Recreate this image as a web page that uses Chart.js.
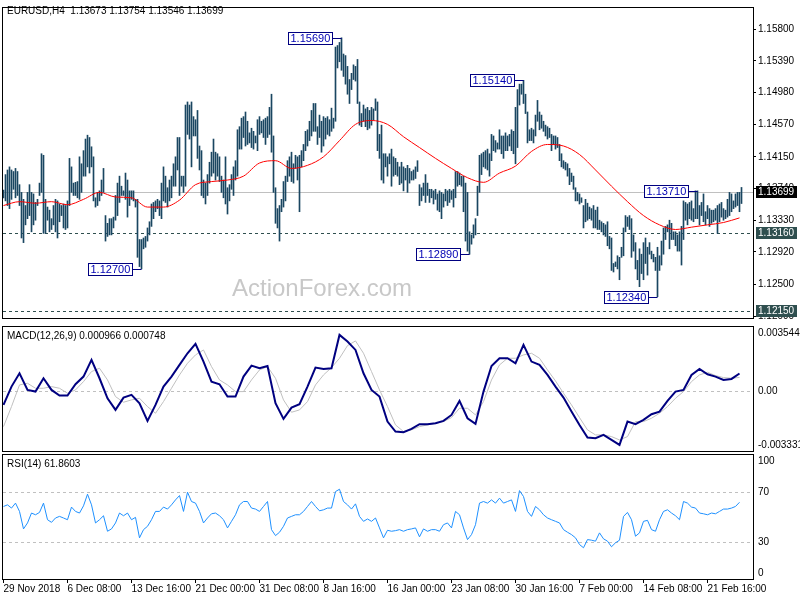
<!DOCTYPE html>
<html>
<head>
<meta charset="utf-8">
<script src="https://cdn.jsdelivr.net/npm/chart.js@4.4.1/dist/chart.umd.min.js"></script>
<style>
  body { margin: 0; background: #fff; width: 800px; height: 600px; position: relative; overflow: hidden; }
  canvas { position: absolute; left: 0; }
  #main { top: 0; }
  #macd { top: 326px; }
  #rsi { top: 453px; }
</style>
</head>
<body>
<canvas id="main" width="800" height="326"></canvas>
<canvas id="macd" width="800" height="127"></canvas>
<canvas id="rsi" width="800" height="147"></canvas>
<script>
const symbolName = 'EURUSD,H4';
const lastOHLC = [1.13673, 1.13754, 1.13546, 1.13699];

// H4 bars, one per index
const highs = [
  1.1372,1.1392,1.1398,1.1402,1.1398,1.1396,1.1400,1.1396,1.1379,1.1369,
  1.1360,1.1352,1.1369,1.1379,1.1369,1.1367,1.1356,1.1360,1.1381,1.1419,
  1.1417,1.1360,1.1350,1.1346,1.1335,1.1352,1.1360,1.1358,1.1354,1.1352,
  1.1354,1.1352,1.1358,1.1413,1.1402,1.1381,1.1382,1.1383,1.1415,1.1406,
  1.1423,1.1438,1.1443,1.1440,1.1428,1.1415,1.1362,1.1369,1.1371,1.1385,
  1.1400,1.1339,1.1329,1.1335,1.1335,1.1337,1.1365,1.1381,1.1390,1.1377,
  1.1371,1.1394,1.1385,1.1371,1.1371,1.1371,1.1360,1.1360,1.1308,1.1308,
  1.1310,1.1312,1.1323,1.1331,1.1354,1.1356,1.1358,1.1360,1.1358,1.1381,
  1.1402,1.1390,1.1375,1.1385,1.1390,1.1406,1.1415,1.1440,1.1440,1.1390,
  1.1390,1.1482,1.1486,
  1.1482,1.1486,1.1467,1.1463,1.1475,1.1429,1.1423,1.1385,1.1381,1.1392,
  1.1408,1.1421,1.1438,1.1421,1.1419,1.1415,1.1390,1.1385,1.1415,1.1375,
  1.1379,1.1392,1.1402,1.1410,1.1450,1.1454,1.1465,1.1467,1.1473,1.1461,
  1.1446,1.1452,1.1448,1.1442,1.1463,1.1467,1.1461,1.1463,
  1.1465,1.1467,1.1479,1.1496,1.1442,1.1375,1.1348,1.1352,1.1360,1.1383,
  1.1390,1.1410,1.1415,1.1421,1.1406,1.1417,1.1415,1.1417,1.1423,1.1431,
  1.1448,1.1450,1.1461,1.1475,1.1484,1.1484,1.1454,1.1469,1.1461,1.1467,
  1.1465,1.1467,1.1463,1.1478,1.1465,1.1557,1.1559,1.1563,1.1569,1.1548,
  1.1546,1.1532,1.1515,1.1523,1.1534,1.1532,1.1541,1.1486,1.1471,1.1482,
  1.1477,1.1479,1.1475,1.1479,1.1477,
  1.1490,1.1486,1.1444,1.1456,1.1419,1.1419,1.1415,1.1419,1.1425,1.1415,
  1.1413,1.1408,1.1402,1.1408,1.1402,1.1400,1.1404,1.1400,1.1396,1.1398,
  1.1402,1.1410,1.1379,1.1375,1.1381,1.1392,1.1381,1.1373,1.1373,1.1371,
  1.1373,1.1367,1.1371,1.1369,1.1367,1.1373,1.1371,1.1373,1.1371,1.1373,
  1.1396,1.1396,1.1394,1.1390,1.1390,1.1381,1.1369,1.1318,1.1314,1.1327,
  1.1335,1.1377,1.1417,1.1419,1.1421,1.1423,
  1.1425,1.1419,1.1444,1.1442,1.1436,1.1433,1.1450,1.1442,1.1442,1.1446,
  1.1442,1.1444,1.1450,1.1448,1.1479,1.1502,1.1509,1.1509,1.1514,1.1496,
  1.1473,1.1450,1.1452,1.1450,1.1469,1.1488,1.1473,1.1469,1.1461,1.1456,
  1.1454,1.1452,1.1444,1.1442,1.1442,1.1440,1.1431,
  1.1419,1.1410,1.1408,1.1406,1.1400,1.1394,1.1390,1.1375,1.1369,1.1367,
  1.1362,1.1352,1.1360,1.1355,
  1.1350,1.1348,1.1352,1.1346,1.1350,1.1333,1.1331,1.1329,1.1327,1.1331,
  1.1312,1.1310,1.1277,1.1279,1.1287,1.1285,1.1298,1.1323,1.1339,1.1337,
  1.1339,1.1335,1.1314,1.1304,1.1281,1.1296,1.1289,1.1304,1.1310,1.1298,
  1.1304,1.1293,1.1289,1.1285,1.1298,1.1287,1.1306,1.1323,1.1325,1.1327,
  1.1333,1.1329,1.1318,1.1318,1.1314,1.1318,1.1325,1.1358,1.1356,1.1354,
  1.1356,1.1358,1.1348,1.1371,1.1371,1.1352,1.1356,1.1367,1.1344,1.1352,
  1.1348,1.1346,1.1346,1.1348,1.1352,1.1354,1.1356,1.1348,1.1346,1.1360,
  1.1369,1.1367,1.1358,1.1367,1.1369,1.1369,1.13754
];
const lows = [
  1.1362,1.1358,1.1352,1.1348,1.1360,1.1373,1.1362,1.1365,1.1352,1.1310,
  1.1304,1.1327,1.1335,1.1339,1.1318,1.1327,1.1333,1.1352,1.1365,1.1369,
  1.1316,1.1316,1.1333,1.1318,1.1321,1.1327,1.1318,1.1310,1.1331,1.1339,
  1.1323,1.1321,1.1323,1.1352,1.1369,1.1365,1.1365,1.1362,1.1360,1.1369,
  1.1390,1.1390,1.1402,1.1394,1.1402,1.1358,1.1350,1.1352,1.1358,1.1365,
  1.1369,1.1306,1.1312,1.1314,1.1314,1.1323,1.1333,1.1339,1.1356,1.1365,
  1.1365,1.1360,1.1337,1.1352,1.1360,1.1358,1.1350,1.1285,1.1273,1.1270,
  1.1296,1.1298,1.1306,1.1314,1.1325,1.1335,1.1344,1.1348,1.1339,1.1335,
  1.1358,1.1356,1.1350,1.1358,1.1362,1.1377,1.1377,1.1398,1.1365,1.1377,
  1.1369,1.1377,1.1444,
  1.1438,1.1402,1.1442,1.1442,1.1413,1.1398,1.1365,1.1362,1.1354,1.1365,
  1.1381,1.1390,1.1394,1.1385,1.1390,1.1383,1.1369,1.1362,1.1354,1.1341,
  1.1358,1.1373,1.1365,1.1385,1.1390,1.1425,1.1425,1.1440,1.1429,1.1431,
  1.1433,1.1427,1.1425,1.1433,1.1423,1.1444,1.1446,1.1440,
  1.1431,1.1440,1.1444,1.1421,1.1369,1.1329,1.1323,1.1306,1.1344,1.1350,
  1.1358,1.1383,1.1390,1.1383,1.1381,1.1400,1.1385,1.1344,1.1402,1.1410,
  1.1423,1.1429,1.1436,1.1442,1.1448,1.1448,1.1431,1.1440,1.1421,1.1429,
  1.1438,1.1444,1.1442,1.1448,1.1452,1.1461,1.1530,1.1538,1.1527,1.1519,
  1.1509,1.1496,1.1484,1.1502,1.1515,1.1513,1.1484,1.1456,1.1454,1.1461,
  1.1454,1.1450,1.1452,1.1456,1.1463,
  1.1475,1.1423,1.1413,1.1385,1.1381,1.1402,1.1390,1.1406,1.1377,1.1390,
  1.1392,1.1390,1.1379,1.1381,1.1371,1.1385,1.1369,1.1381,1.1385,1.1385,
  1.1387,1.1396,1.1352,1.1358,1.1365,1.1356,1.1365,1.1356,1.1362,1.1354,
  1.1360,1.1346,1.1344,1.1335,1.1350,1.1358,1.1352,1.1356,1.1360,1.1350,
  1.1362,1.1377,1.1379,1.1377,1.1344,1.1306,1.1293,1.1289,1.1302,1.1310,
  1.1314,1.1339,1.1369,1.1392,1.1402,1.1400,
  1.1398,1.1390,1.1410,1.1423,1.1421,1.1425,1.1425,1.1419,1.1413,1.1423,
  1.1423,1.1429,1.1423,1.1419,1.1406,1.1427,1.1482,1.1496,1.1484,1.1471,
  1.1433,1.1436,1.1436,1.1433,1.1442,1.1461,1.1450,1.1452,1.1448,1.1442,
  1.1438,1.1440,1.1423,1.1431,1.1425,1.1427,1.1410,
  1.1402,1.1400,1.1398,1.1390,1.1379,1.1383,1.1373,1.1358,1.1358,1.1354,
  1.1356,1.1323,1.1331,1.1333,
  1.1335,1.1333,1.1323,1.1323,1.1321,1.1321,1.1318,1.1314,1.1312,1.1300,
  1.1296,1.1268,1.1266,1.1273,1.1270,1.1256,1.1285,1.1287,1.1318,1.1325,
  1.1321,1.1285,1.1293,1.1270,1.1256,1.1247,1.1264,1.1256,1.1277,1.1262,
  1.1289,1.1283,1.1279,1.1268,1.1234,1.1268,1.1275,1.1289,1.1308,1.1318,
  1.1296,1.1308,1.1308,1.1300,1.1293,1.1293,1.1275,1.1308,1.1333,1.1327,
  1.1335,1.1333,1.1331,1.1335,1.1335,1.1327,1.1339,1.1331,1.1327,1.1335,
  1.1325,1.1329,1.1331,1.1333,1.1316,1.1331,1.1337,1.1333,1.1335,1.1337,
  1.1339,1.1344,1.1348,1.1350,1.1352,1.1344,1.13546
];

// moving average, one value every MA_STEP bars
const MA_STEP = 8;
const maValues = [
  1.1352,1.1357,1.1355,1.1357,1.1353,1.1360,1.1369,1.1363,1.1362,1.1350,
  1.1350,1.1359,1.1379,1.1383,1.1385,1.1390,1.1407,1.1410,1.1400,1.1404,
  1.1415,1.1436,1.1457,1.1462,1.1457,1.1441,1.1427,1.1413,1.1400,1.1388,
  1.1382,1.1394,1.1403,1.1422,1.1431,1.1429,1.1418,1.1398,1.1377,1.1357,
  1.1339,1.1327,1.1321,1.1324,1.1327,1.1330,1.1336
];

// MACD main and signal, one value every MACD_STEP bars
const MACD_STEP = 4;
const macdMain = [
  -0.000776,0.000240,0.000979,0.000055,-0.000037,0.000702,0.000055,-0.000259,-0.000259,0.000370,
  0.000795,0.001719,0.000702,-0.000407,-0.001053,-0.000370,-0.000222,-0.000684,-0.001663,-0.000776,
  0.000240,0.000795,0.001441,0.002088,0.002606,0.001626,0.000517,0.000370,-0.000314,-0.000314,
  0.000795,0.001404,0.001257,0.001386,-0.000684,-0.001552,-0.000924,-0.000739,0.000240,0.001294,
  0.001220,0.001257,0.003105,0.002735,0.002273,0.000979,0.000055,-0.000314,-0.001700,-0.002255,
  -0.002292,-0.002107,-0.001848,-0.001848,-0.001793,-0.001663,-0.001331,-0.000554,-0.001515,-0.001830,
  -0.000037,0.001386,0.001811,0.001811,0.001534,0.002550,0.001626,0.001441,0.000887,0.000240,
  -0.000370,-0.001146,-0.001885,-0.002587,-0.002624,-0.002439,-0.002717,-0.002994,-0.001700,-0.001848,
  -0.001608,-0.001294,-0.001146,-0.000554,-0.000037,0.000055,0.000887,0.001220,0.000924,0.000795,
  0.000610,0.000665,0.000966
];
const macdSignal = [
  -0.001977,-0.000869,0.000333,0.000425,0.000148,0.000148,0.000240,0.000148,-0.000129,0.000055,
  0.000517,0.001072,0.001257,0.000610,-0.000314,-0.000628,-0.000499,-0.000407,-0.000869,-0.001238,
  -0.000591,0.000148,0.000887,0.001534,0.001996,0.002273,0.001349,0.000610,0.000333,-0.000037,
  -0.000037,0.000610,0.001164,0.001349,0.000702,-0.000499,-0.001183,-0.001053,-0.000591,0.000333,
  0.000887,0.001294,0.001811,0.002513,0.002772,0.002088,0.001072,0.000055,-0.000869,-0.001885,
  -0.002255,-0.002162,-0.001977,-0.001885,-0.001793,-0.001700,-0.001478,-0.000961,-0.000961,-0.001331,
  -0.000591,0.000610,0.001441,0.001811,0.001811,0.001996,0.002088,0.001811,0.001164,0.000554,
  -0.000129,-0.000776,-0.001478,-0.002162,-0.002439,-0.002439,-0.002532,-0.002717,-0.002532,-0.001700,
  -0.001700,-0.001515,-0.001238,-0.000869,-0.000407,-0.000037,0.000517,0.000887,0.001035,0.000850,
  0.000739,0.000702,0.000748
];

// RSI(14), one value every RSI_STEP bars
const RSI_STEP = 2;
const rsiValues = [
  58.5,59.8,57.2,61.2,54.5,40.4,45.2,53.2,51.8,53.7,
  61.2,47.8,45.7,49.2,50.5,49.2,47.8,58.0,54.5,53.2,
  59.0,68.4,59.8,45.2,47.8,51.0,38.5,40.4,45.2,53.2,
  51.0,53.2,47.8,49.7,33.2,39.8,42.5,47.8,54.5,54.5,
  58.0,56.4,59.8,63.8,67.3,54.5,70.0,62.5,61.2,54.5,
  45.2,49.2,52.6,53.2,51.0,47.8,41.2,46.5,51.8,59.8,
  62.5,62.5,57.2,56.4,54.5,58.5,62.5,39.8,35.0,37.7,
  42.5,49.2,50.5,51.8,51.8,54.5,58.5,62.5,58.5,55.0,
  55.8,57.2,57.2,70.5,72.4,62.5,59.8,56.4,60.6,50.5,
  46.5,48.4,46.5,49.2,41.2,33.2,39.3,38.5,39.0,39.8,
  38.5,39.8,40.4,41.2,34.0,40.4,38.5,39.8,39.8,38.5,
  43.8,45.2,41.2,54.5,51.8,41.2,31.8,35.8,43.8,61.2,
  62.5,61.2,63.8,61.2,65.2,61.2,62.5,63.8,54.5,71.3,
  66.5,54.5,50.5,58.5,55.8,51.8,49.2,47.8,46.5,45.2,
  39.8,37.7,35.8,33.2,27.8,25.2,31.8,31.3,30.5,37.2,
  32.4,30.5,26.0,29.2,31.3,50.5,53.7,47.8,34.5,37.2,
  46.5,47.3,39.8,38.5,47.8,54.5,55.8,53.2,51.0,47.8,
  62.5,61.2,58.0,57.2,53.2,52.6,51.8,53.2,52.6,54.5,
  56.4,56.4,57.2,58.5,61.8603
];

// time axis: one label every TIME_STEP bars
const TIME_STEP = 32;
const timeLabels = ['29 Nov 2018', '6 Dec 08:00', '13 Dec 16:00', '21 Dec 00:00', '31 Dec 08:00', '8 Jan 16:00',
  '16 Jan 00:00', '23 Jan 08:00', '30 Jan 16:00', '7 Feb 00:00', '14 Feb 08:00', '21 Feb 16:00'];

const priceTicks = [1.1209, 1.1250, 1.1292, 1.1333, 1.1374, 1.1415, 1.1457, 1.1498, 1.1539, 1.1580];
const priceRange = [1.120649, 1.160754];
const markIndex = [69, 169, 233, 260, 327, 347];
const markPrice = [1.1270, 1.1569, 1.1289, 1.1514, 1.1234, 1.1371];
const levelPrices = [1.1316, 1.1215];
const macdRange = [-0.003331, 0.003544];
const rsiLevels = [70, 30];
const rsiTicks = [100, 70, 30, 0];

const FONT = "'Liberation Sans', Arial, sans-serif";
const BAR_COLOR = '#1a4661';
const X_MIN = -0.25, X_MAX = 374.75;

Chart.defaults.font.family = FONT;
Chart.defaults.font.size = 10;
Chart.defaults.color = '#000';

function xAxis(showLabels) {
  return {
    type: 'linear', min: X_MIN, max: X_MAX, offset: false, bounds: 'data',
    display: showLabels,
    afterBuildTicks: s => { s.ticks = timeLabels.map((t, i) => ({ value: i * TIME_STEP })); },
    afterFit: s => { if (showLabels) s.height = 21; },
    grid: { drawOnChartArea: false, drawTicks: true, tickLength: 4, color: '#000' },
    border: { display: false },
    ticks: { autoSkip: false, maxRotation: 0, minRotation: 0, align: 'start', padding: 0,
      callback: (v, i) => timeLabels[i] }
  };
}

function panelY(min, max) {
  return {
    position: 'right', min: min, max: max, bounds: 'data',
    afterFit: s => { s.width = 47; },
    grid: { display: false }, border: { display: false }, ticks: { display: false }
  };
}

function hLine(ctx, area, py, color, dash) {
  const yy = Math.round(py) + 0.5;
  ctx.save();
  ctx.strokeStyle = color;
  ctx.lineWidth = 1;
  ctx.setLineDash(dash);
  ctx.beginPath();
  ctx.moveTo(area.left, yy);
  ctx.lineTo(area.right, yy);
  ctx.stroke();
  ctx.restore();
}

const framePlugin = {
  id: 'frame',
  afterDraw(chart) {
    const { ctx, chartArea: a } = chart;
    ctx.save();
    ctx.strokeStyle = '#000';
    ctx.lineWidth = 1;
    ctx.strokeRect(a.left - 0.5, a.top - 0.5, a.right - a.left + 1, a.bottom - a.top + 1);
    ctx.restore();
  }
};

function panelDecor(id, title, titleY, levels, labels, fmt) {
  return {
    id: id,
    beforeDatasetsDraw(chart) {
      const { ctx, chartArea: a, scales: { y } } = chart;
      levels.forEach(v => hLine(ctx, a, y.getPixelForValue(v), '#c0c0c0', [3, 3]));
    },
    afterDraw(chart) {
      const { ctx, chartArea: a, scales: { y } } = chart;
      ctx.save();
      ctx.font = '10px ' + FONT;
      ctx.fillStyle = '#000';
      ctx.textAlign = 'left';
      ctx.textBaseline = 'middle';
      ctx.fillText(title, 7, titleY);
      labels.forEach(v => {
        let py = y.getPixelForValue(v);
        py = Math.min(Math.max(py, a.top + 6), a.bottom - 6);
        ctx.fillText(fmt(v), a.right + 5, py);
      });
      ctx.restore();
    }
  };
}

const mainDecor = {
  id: 'mainDecor',
  beforeDatasetsDraw(chart) {
    const { ctx, chartArea: a, scales: { y } } = chart;
    ctx.save();
    ctx.font = '24px ' + FONT;
    ctx.fillStyle = '#c8c8c8';
    ctx.textBaseline = 'alphabetic';
    ctx.fillText('ActionForex.com', 232, 296);
    ctx.restore();
    hLine(ctx, a, y.getPixelForValue(lastOHLC[3]), '#c0c0c0', []);
    levelPrices.forEach(p => hLine(ctx, a, y.getPixelForValue(p), '#2f4f4f', [3, 3]));
  },
  afterDatasetsDraw(chart) {
    const { ctx, scales: { x, y } } = chart;
    ctx.save();
    ctx.font = '11px ' + FONT;
    ctx.lineWidth = 1;
    markIndex.forEach((idx, k) => {
      const px = x.getPixelForValue(idx);
      const py = Math.round(y.getPixelForValue(markPrice[k])) + 0.5;
      const text = markPrice[k].toFixed(5);
      const w = Math.ceil(ctx.measureText(text).width) + 4;
      const right = Math.round(px - 10) + 0.5;
      const left = right - w;
      ctx.fillStyle = '#fff';
      ctx.fillRect(left, py - 6, w, 12);
      ctx.strokeStyle = '#000080';
      ctx.strokeRect(left, py - 6, w, 12);
      ctx.beginPath();
      ctx.moveTo(right, py);
      ctx.lineTo(px, py);
      ctx.stroke();
      ctx.fillStyle = '#0000b4';
      ctx.textAlign = 'left';
      ctx.textBaseline = 'middle';
      ctx.fillText(text, left + 2, py + 0.5);
    });
    ctx.restore();
  },
  afterDraw(chart) {
    const { ctx, chartArea: a, scales: { y } } = chart;
    ctx.save();
    ctx.font = '10px ' + FONT;
    ctx.textAlign = 'left';
    ctx.textBaseline = 'middle';
    const boxes = [[lastOHLC[3], '#000'], [levelPrices[0], '#2f4f4f'], [levelPrices[1], '#2f4f4f']];
    boxes.forEach(([p, col]) => {
      const py = Math.round(y.getPixelForValue(p));
      ctx.fillStyle = col;
      ctx.fillRect(a.right + 3, py - 6, 41, 12);
      ctx.fillStyle = '#fff';
      ctx.fillText(p.toFixed(5), a.right + 5, py);
    });
    ctx.fillStyle = '#000';
    ctx.fillText(symbolName + '  ' + lastOHLC.map(v => v.toFixed(5)).join(' '), 7, 11);
    ctx.restore();
  }
};

const baseOptions = {
  responsive: false,
  animation: false,
  events: [],
  plugins: { legend: { display: false }, tooltip: { enabled: false } }
};

new Chart(document.getElementById('main'), {
  type: 'bar',
  data: {
    datasets: [
      {
        type: 'bar',
        data: highs.map((h, i) => ({ x: i, y: [lows[i], h] })),
        backgroundColor: BAR_COLOR,
        barThickness: 1,
        borderWidth: 0,
        grouped: false,
        order: 2
      },
      {
        type: 'line',
        data: maValues.map((v, i) => ({ x: i * MA_STEP, y: v })),
        borderColor: '#ff0000',
        borderWidth: 1,
        pointRadius: 0,
        cubicInterpolationMode: 'monotone',
        order: 1
      }
    ]
  },
  options: {
    ...baseOptions,
    layout: { padding: { left: 3, top: 3, right: 0, bottom: 3 } },
    scales: {
      x: xAxis(false),
      y: {
        position: 'right', min: priceRange[0], max: priceRange[1], bounds: 'data',
        afterBuildTicks: s => { s.ticks = priceTicks.map(v => ({ value: v })); },
        afterFit: s => { s.width = 47; },
        grid: { drawOnChartArea: false, tickLength: 3, color: '#000' },
        border: { display: false },
        ticks: { padding: 2, autoSkip: false, callback: v => v.toFixed(5) }
      }
    }
  },
  plugins: [mainDecor, framePlugin]
});

new Chart(document.getElementById('macd'), {
  type: 'line',
  data: {
    datasets: [
      {
        data: macdMain.map((v, i) => ({ x: i * MACD_STEP, y: v })),
        borderColor: '#000080', borderWidth: 2, pointRadius: 0, order: 1
      },
      {
        data: macdSignal.map((v, i) => ({ x: i * MACD_STEP, y: v })),
        borderColor: '#c0c0c0', borderWidth: 1, pointRadius: 0, order: 2
      }
    ]
  },
  options: {
    ...baseOptions,
    layout: { padding: { left: 3, top: 1, right: 0, bottom: 2 } },
    scales: { x: xAxis(false), y: panelY(macdRange[0], macdRange[1]) }
  },
  plugins: [
    panelDecor('macdDecor',
      'MACD(12,26,9) ' + macdMain[macdMain.length - 1].toFixed(6) + ' ' + macdSignal[macdSignal.length - 1].toFixed(6),
      10, [0], [macdRange[1], 0, macdRange[0]], v => (v === 0 ? '0.00' : v.toFixed(6))),
    framePlugin
  ]
});

new Chart(document.getElementById('rsi'), {
  type: 'line',
  data: {
    datasets: [
      {
        data: rsiValues.map((v, i) => ({ x: i * RSI_STEP, y: v })),
        borderColor: '#1e90ff', borderWidth: 1, pointRadius: 0
      }
    ]
  },
  options: {
    ...baseOptions,
    layout: { padding: { left: 3, top: 2, right: 0, bottom: 0 } },
    scales: { x: xAxis(true), y: panelY(0, 100) }
  },
  plugins: [
    panelDecor('rsiDecor', 'RSI(14) ' + rsiValues[rsiValues.length - 1].toFixed(4),
      11, rsiLevels, rsiTicks, v => String(v)),
    framePlugin
  ]
});
</script>
</body>
</html>
